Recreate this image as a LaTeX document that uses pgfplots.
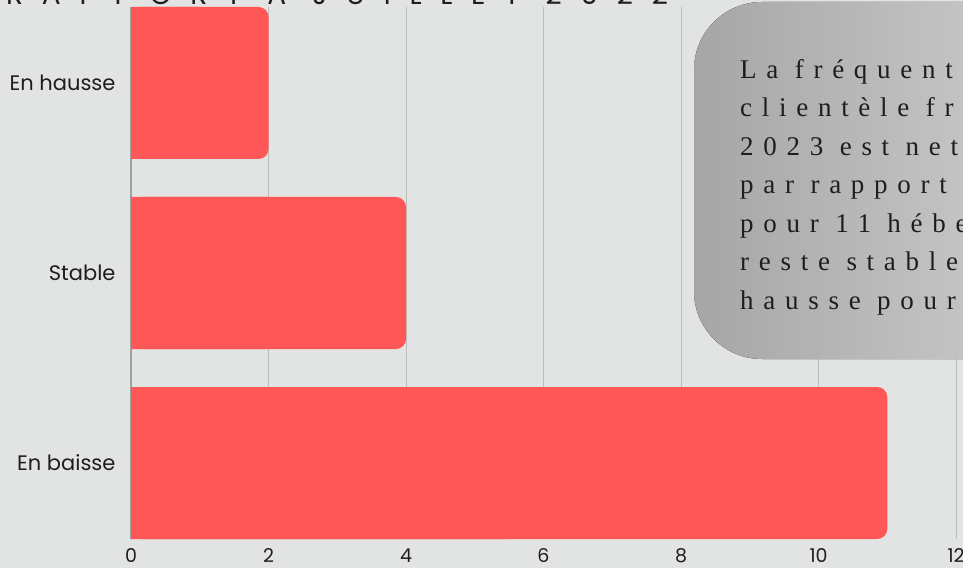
\documentclass[border=0pt]{standalone}
\usepackage{pgfplots}
\pgfplotsset{compat=1.18}
\usepackage{pgfplotstable}
\usepackage{fontspec}
\setmainfont{Poppins}
\newfontfamily\boxfont[LetterSpace=36]{Liberation Serif}
\newfontfamily\titlefont[LetterSpace=67]{Poppins}
\definecolor{bg}{RGB}{226,228,227}
\definecolor{barred}{RGB}{255,87,87}
\definecolor{gridc}{RGB}{188,190,189}
\definecolor{axc}{RGB}{160,162,161}
\definecolor{boxL}{RGB}{166,166,166}
\definecolor{boxR}{RGB}{212,212,212}
\definecolor{txt}{RGB}{30,30,30}

\pgfplotstableread{
pos value
0 11
1 4
2 2
}\datatable

\begin{document}
\begin{tikzpicture}[x=1pt,y=1pt]
\path[use as bounding box] (0,0) rectangle (963,568);
\clip (0,0) rectangle (963,568);
\fill[bg] (0,0) rectangle (963,568);
\begin{axis}[
  at={(131pt,29pt)}, anchor=south west,
  scale only axis, width=825pt, height=532pt,
  xmin=0, xmax=12, ymin=-0.4, ymax=2.4,
  xtick={0,2,4,6,8,10,12}, ytick={0,1,2},
  yticklabels={En baisse,Stable,En hausse},
  axis lines*=left,
  x axis line style={draw=none},
  y axis line style={draw=axc, line width=1.2pt},
  xmajorgrids, major grid style={draw=gridc, line width=1pt},
  major tick length=0pt,
  tick label style={text=txt},
  xticklabel style={font=\fontsize{19}{22}\selectfont, yshift=-6pt},
  yticklabel style={font=\fontsize{21}{24}\selectfont, xshift=-12pt},
  /pgf/number format/assume math mode=true,
  xbar, bar width=0.8,
]
\addplot[xbar, bar shift=0pt, fill=barred, draw=none, rounded corners=10pt]
  table[x=value, y=pos]{\datatable};
\addplot[xbar, bar shift=0pt, fill=barred, draw=none]
  table[x expr=\thisrow{value}/2, y=pos]{\datatable};
\end{axis}
% text box
\fill[rounded corners=68pt, left color=boxL, right color=boxR]
  (694,209) rectangle (1120,566);
\begin{scope}[every node/.style={anchor=base west, inner sep=0pt, text=txt,
    font=\boxfont\fontsize{27}{30}\selectfont}]
\node at (740,{568-78.5}) {La fréquentation de la};
\node at (740,{568-117}) {clientèle française en juillet};
\node at (740,{568-155.5}) {2023 est nettement en baisse};
\node at (740,{568-194}) {par rapport à juillet 2022};
\node at (740,{568-232.5}) {pour 11 hébergeurs. Elle};
\node at (740,{568-271}) {reste stable pour 4 et en};
\node at (740,{568-309.5}) {hausse pour 2.};
\end{scope}
% title
\node[anchor=base west, inner sep=0pt, text=txt,
  font=\titlefont\fontsize{28}{30}\selectfont] at (6,563) {RAPPORT À JUILLET 2022};
\end{tikzpicture}
\end{document}
